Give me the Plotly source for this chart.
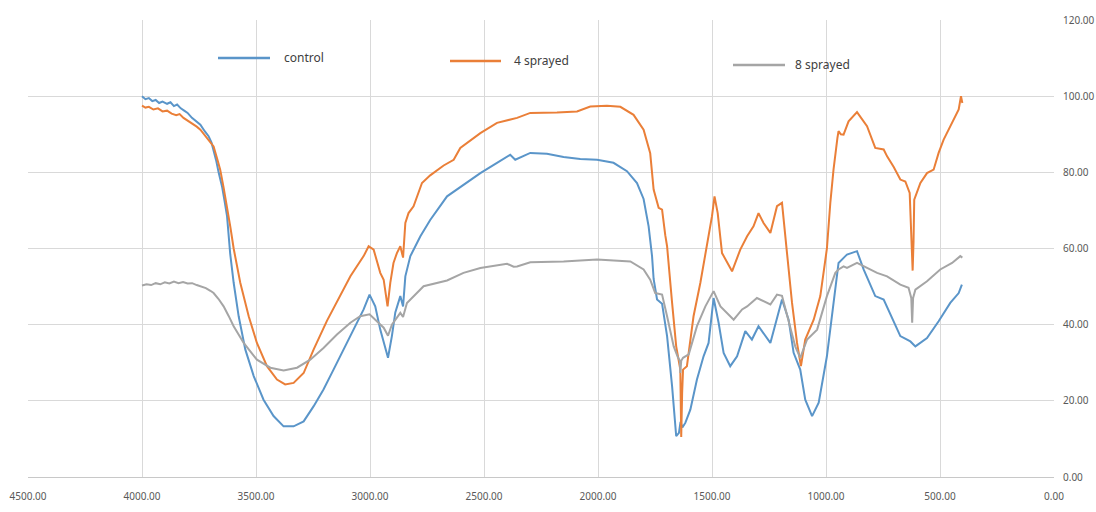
import plotly.graph_objects as go

# FTIR transmittance spectra (wavenumber in cm-1, transmittance in %)
control_wn = [4000, 3985, 3970, 3955, 3940, 3925, 3910, 3890, 3875, 3860, 3846, 3830, 3815,
              3800, 3781, 3765, 3744, 3725, 3708, 3695, 3686, 3675, 3664, 3649, 3638, 3627,
              3613, 3598, 3576, 3547, 3510, 3467, 3423, 3379, 3335, 3291, 3247, 3204, 3160,
              3116, 3072, 3028, 3002, 2977, 2955, 2921, 2904, 2889, 2867, 2855, 2845, 2823,
              2779, 2736, 2662, 2590, 2516, 2443, 2385, 2363, 2297, 2224, 2151, 2078, 2004,
              1932, 1873, 1829, 1800, 1778, 1763, 1756, 1741, 1719, 1697, 1675, 1657, 1645,
              1638, 1630, 1617, 1595, 1566, 1537, 1515, 1493, 1471, 1449, 1420, 1390, 1354,
              1325, 1296, 1244, 1193, 1164, 1142, 1113, 1100, 1091, 1061, 1032, 996, 967,
              945, 915, 908, 864, 835, 784, 747, 674, 630, 608, 557, 506, 455, 418, 404]
control_t = [100.0, 99.2, 99.5, 98.7, 99.0, 98.2, 98.6, 98.0, 98.4, 97.4, 97.8, 96.8, 96.2,
             95.6, 94.3, 93.6, 92.5, 90.8, 89.5, 87.8, 86.0, 83.2, 80.0, 76.3, 72.5, 68.5,
             58.5, 51.0, 42.2, 33.5, 26.5, 20.3, 16.0, 13.3, 13.3, 14.6, 18.6, 23.0, 28.2,
             33.5, 38.7, 44.0, 47.9, 44.8, 38.7, 31.3, 37.0, 43.2, 47.5, 44.8, 52.7, 58.0,
             63.2, 67.5, 73.7, 76.8, 79.8, 82.5, 84.6, 83.3, 85.1, 84.9, 84.0, 83.5, 83.3,
             82.5, 80.3, 77.2, 73.0, 65.8, 58.0, 52.0, 46.6, 45.5, 37.0, 23.8, 10.7, 11.6,
             14.5, 13.0, 14.2, 17.7, 25.6, 31.7, 35.2, 47.0, 40.5, 32.6, 29.1, 31.7, 38.3,
             36.1, 39.6, 35.2, 46.6, 41.3, 32.6, 28.2, 23.0, 20.3, 16.0, 19.5, 31.7, 45.7,
             56.2, 58.0, 58.4, 59.3, 54.5, 47.5, 46.6, 37.0, 35.6, 34.3, 36.5, 40.9, 45.7,
             48.3, 50.5]

sprayed4_wn = [4000, 3985, 3970, 3950, 3930, 3910, 3890, 3870, 3850, 3835, 3818, 3800, 3780,
               3760, 3744, 3720, 3700, 3686, 3670, 3657, 3642, 3627, 3612, 3598, 3585, 3569,
               3532, 3496, 3452, 3408, 3372, 3335, 3291, 3247, 3189, 3130, 3086, 3028, 3006,
               2984, 2955, 2940, 2923, 2911, 2897, 2882, 2867, 2855, 2845, 2831, 2809, 2772,
               2736, 2677, 2633, 2604, 2516, 2443, 2355, 2297, 2180, 2092, 2034, 1961, 1902,
               1844, 1800, 1771, 1756, 1734, 1719, 1705, 1697, 1675, 1657, 1639, 1635, 1631,
               1627, 1610, 1581, 1551, 1522, 1500, 1489, 1475, 1456, 1412, 1376, 1346, 1318,
               1296, 1274, 1244, 1215, 1193, 1171, 1149, 1127, 1110, 1091, 1054, 1025, 996,
               981, 967, 950, 945, 935, 923, 901, 864, 820, 784, 747, 732, 703, 674, 652,
               633, 625, 620, 616, 613, 586, 557, 528, 506, 484, 455, 433, 418, 408, 402]
sprayed4_t = [97.5, 97.0, 97.2, 96.5, 96.8, 96.0, 96.2, 95.4, 95.0, 95.3, 94.3, 93.6, 93.0,
              92.0, 91.2, 89.5, 88.0, 86.8, 83.5, 80.7, 76.0, 71.1, 65.5, 60.0, 55.5, 51.0,
              42.2, 35.2, 29.1, 25.6, 24.3, 24.7, 27.3, 33.5, 41.0, 47.5, 52.7, 58.0, 60.6,
              59.7, 53.6, 51.8, 44.8, 51.0, 56.2, 58.8, 60.6, 57.6, 66.7, 69.3, 71.1, 77.2,
              79.2, 81.8, 83.3, 86.4, 90.3, 93.0, 94.3, 95.6, 95.7, 96.0, 97.3, 97.5, 97.2,
              95.1, 91.2, 85.0, 75.5, 70.7, 70.2, 63.5, 60.6, 45.7, 34.3, 28.2, 10.5, 22.0,
              28.2, 29.1, 42.2, 51.0, 60.6, 68.5, 73.7, 69.3, 58.8, 54.0, 59.7, 63.2, 65.8,
              69.3, 66.7, 64.1, 71.1, 72.0, 58.8, 45.7, 35.2, 29.1, 36.1, 41.3, 47.5, 60.0,
              72.0, 80.7, 89.0, 90.8, 90.0, 89.9, 93.4, 95.8, 92.1, 86.4, 86.0, 84.2, 81.4,
              78.1, 77.6, 74.6, 62.0, 54.2, 62.0, 72.8, 77.2, 79.8, 80.7, 85.1, 88.6, 92.1,
              94.7, 96.5, 100.0, 98.2]

sprayed8_wn = [4000, 3980, 3960, 3940, 3920, 3900, 3880, 3860, 3840, 3820, 3800, 3780, 3760,
               3744, 3720, 3700, 3686, 3665, 3642, 3620, 3598, 3554, 3496, 3437, 3379, 3320,
               3262, 3204, 3145, 3086, 3043, 3002, 2969, 2940, 2921, 2904, 2867, 2855, 2838,
               2779, 2765, 2662, 2590, 2516, 2399, 2370, 2355, 2297, 2151, 2004, 1858, 1800,
               1771, 1749, 1719, 1697, 1668, 1650, 1641, 1639, 1635, 1627, 1602, 1566, 1529,
               1493, 1463, 1405, 1368, 1346, 1303, 1244, 1215, 1193, 1164, 1135, 1113, 1083,
               1039, 996, 959, 945, 923, 908, 864, 820, 776, 732, 674, 638, 626, 622, 618,
               608, 557, 499, 447, 411, 402]
sprayed8_t = [50.3, 50.6, 50.4, 50.9, 50.6, 51.1, 50.8, 51.3, 50.9, 51.2, 50.8, 50.9, 50.4,
              50.1, 49.6, 48.9, 48.3, 46.8, 44.8, 42.3, 39.6, 35.2, 30.8, 28.7, 28.0, 28.7,
              30.8, 33.9, 37.4, 40.5, 42.2, 42.7, 40.9, 39.2, 37.1, 40.0, 43.1, 42.0, 45.7,
              49.2, 50.1, 51.6, 53.6, 54.9, 56.0, 55.2, 55.3, 56.4, 56.6, 57.1, 56.6, 54.5,
              51.8, 48.3, 47.9, 42.2, 34.3, 31.5, 30.5, 27.3, 30.5, 31.3, 32.2, 39.6, 44.8,
              48.8, 44.8, 41.3, 44.0, 44.8, 47.0, 45.3, 47.9, 47.6, 41.3, 34.3, 31.3, 36.1,
              38.7, 47.5, 53.6, 54.5, 55.3, 54.9, 56.2, 54.9, 53.6, 52.7, 50.5, 49.7, 47.0,
              40.5, 47.0, 49.2, 51.4, 54.5, 56.2, 58.0, 57.6]

series_names = ["control", "4 sprayed", "8 sprayed"]
series_colors = ["#5a95c9", "#ea7f38", "#a5a5a5"]

fig = go.Figure()
for name, color, wn, t in zip(series_names, series_colors,
                              [control_wn, sprayed4_wn, sprayed8_wn],
                              [control_t, sprayed4_t, sprayed8_t]):
    fig.add_trace(go.Scatter(x=wn, y=t, mode="lines", name=name,
                             line=dict(color=color, width=2), showlegend=False))

W, H = 1096, 512
M_L, M_R, M_T, M_B = 28, 42, 20, 35


def paper_x(px):
    return (px - M_L) / (W - M_L - M_R)


def paper_y(py):
    return (H - M_B - py) / (H - M_T - M_B)


# Legend entries laid out along the top of the plot area
legend_spots = [(218, 270, 282, 58), (450, 501, 512, 61), (733, 785, 793, 65)]
for name, color, (x0, x1, xt, yc) in zip(series_names, series_colors, legend_spots):
    fig.add_shape(type="line", xref="paper", yref="paper",
                  x0=paper_x(x0), x1=paper_x(x1), y0=paper_y(yc), y1=paper_y(yc),
                  line=dict(color=color, width=2.5))
    fig.add_annotation(xref="paper", yref="paper", x=paper_x(xt), y=paper_y(yc),
                       text=name, showarrow=False, xanchor="left", yanchor="middle",
                       font=dict(size=12, color="#404040"))

fig.update_layout(
    width=W, height=H,
    margin=dict(l=M_L, r=M_R, t=M_T, b=M_B, autoexpand=False),
    paper_bgcolor="white", plot_bgcolor="white",
    font=dict(family="Noto Sans, Open Sans, sans-serif", color="#595959", size=10),
)
fig.update_xaxes(range=[4500, 0], dtick=500, tick0=0, tickformat=".2f",
                 showgrid=True, gridcolor="#d9d9d9", gridwidth=1,
                 showline=True, linecolor="#c8c8c8", linewidth=1,
                 zeroline=False, ticks="", ticklabelstandoff=10, automargin=False)
fig.update_yaxes(range=[0, 120], dtick=20, tickformat=".2f", side="right",
                 showgrid=True, gridcolor="#d9d9d9", gridwidth=1,
                 zeroline=False, ticks="", ticklabelstandoff=8, automargin=False)

fig.write_html("out.html")
